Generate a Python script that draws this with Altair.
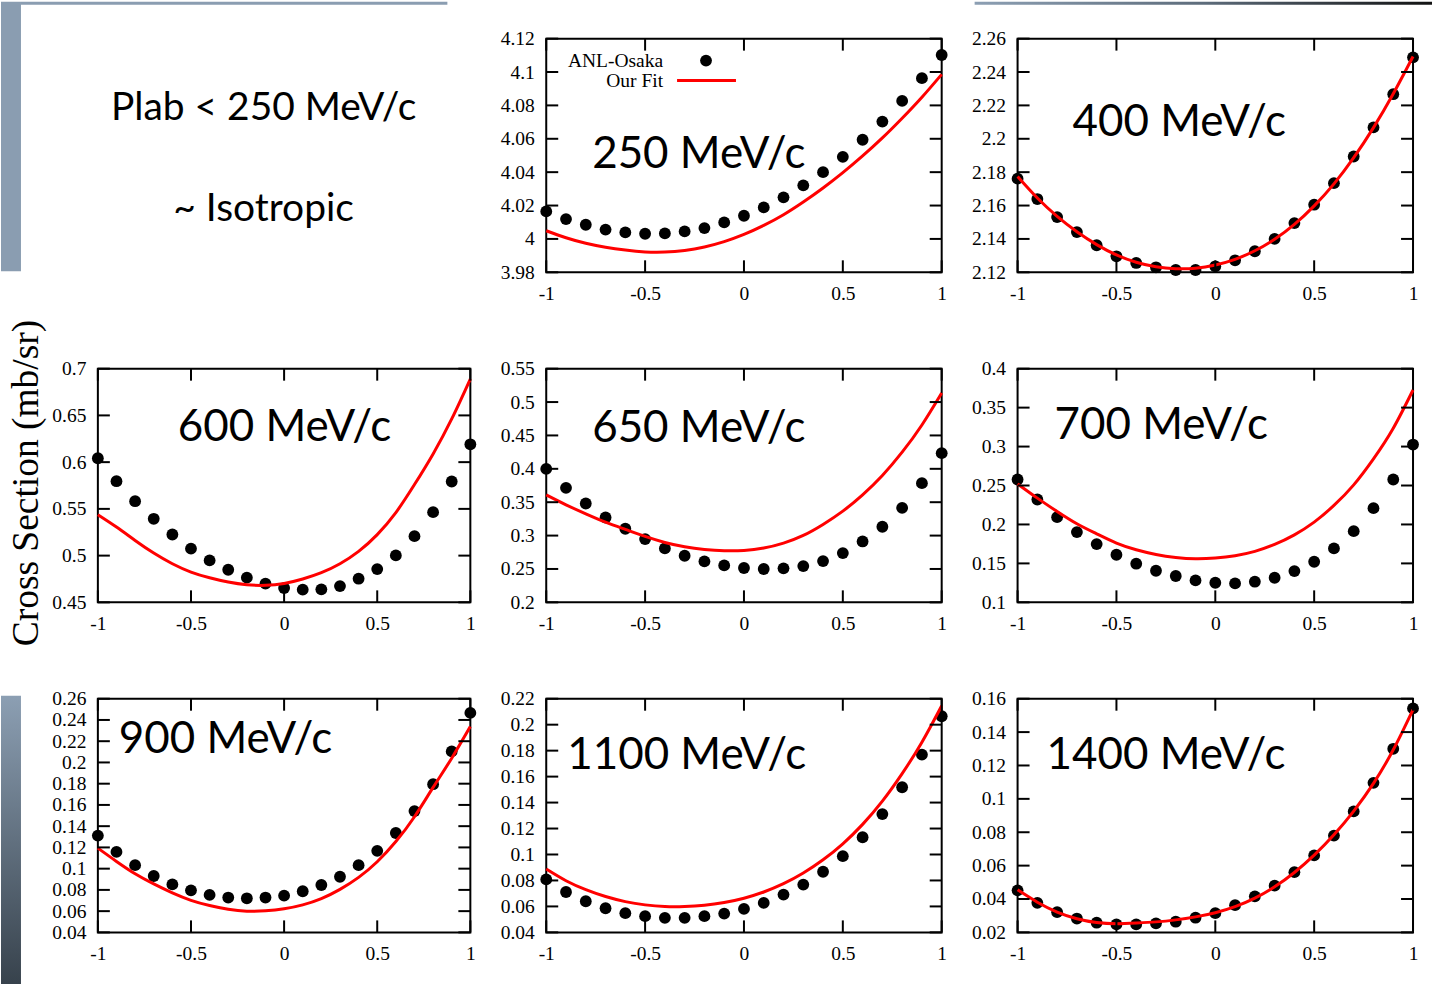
import altair as alt
import pandas as pd

# cos(theta) grid shared by every panel
COS = [-1.0, -0.9, -0.8, -0.7, -0.6, -0.5, -0.4, -0.3, -0.2, -0.1, 0.0,
       0.1, 0.2, 0.3, 0.4, 0.5, 0.6, 0.7, 0.8, 0.9, 1.0]
X_TICKS = [-1, -0.5, 0, 0.5, 1]

# ---- 250 MeV/c ----
anl_250 = [4.0165, 4.0119, 4.0085, 4.0056, 4.0039, 4.0031, 4.0033, 4.0045, 4.0065, 4.0099, 4.0139,
           4.0189, 4.0249, 4.0321, 4.0400, 4.0492, 4.0594, 4.0703, 4.0827, 4.0963, 4.1102]
fit_250 = [4.0049, 4.0007, 3.9974, 3.9950, 3.9933, 3.9922, 3.9921, 3.9931, 3.9952, 3.9984, 4.0027,
           4.0081, 4.0145, 4.0221, 4.0305, 4.0397, 4.0497, 4.0605, 4.0723, 4.0849, 4.0986]
yt_250 = [3.98, 4.0, 4.02, 4.04, 4.06, 4.08, 4.1, 4.12]

# ---- 400 MeV/c ----
anl_400 = [2.1761, 2.1639, 2.1531, 2.1441, 2.1362, 2.1296, 2.1256, 2.1230, 2.1214, 2.1214, 2.1236,
           2.1272, 2.1326, 2.1400, 2.1495, 2.1605, 2.1734, 2.1894, 2.2068, 2.2267, 2.2488]
fit_400 = [2.1774, 2.1645, 2.1535, 2.1443, 2.1366, 2.1304, 2.1260, 2.1233, 2.1222, 2.1225, 2.1244,
           2.1278, 2.1329, 2.1398, 2.1487, 2.1598, 2.1730, 2.1887, 2.2067, 2.2270, 2.2493]
yt_400 = [2.12, 2.14, 2.16, 2.18, 2.2, 2.22, 2.24, 2.26]

# ---- 600 MeV/c ----
anl_600 = [0.6042, 0.5796, 0.5582, 0.5394, 0.5226, 0.5074, 0.4949, 0.4849, 0.4764, 0.4700, 0.4653,
           0.4636, 0.4639, 0.4674, 0.4753, 0.4856, 0.5002, 0.5208, 0.5465, 0.5793, 0.6191]
fit_600 = [0.5437, 0.5305, 0.5162, 0.5027, 0.4913, 0.4824, 0.4763, 0.4717, 0.4688, 0.4682, 0.4702,
           0.4750, 0.4817, 0.4913, 0.5045, 0.5225, 0.5460, 0.5760, 0.6088, 0.6462, 0.6890]
yt_600 = [0.45, 0.5, 0.55, 0.6, 0.65, 0.7]

# ---- 650 MeV/c ----
anl_650 = [0.3999, 0.3715, 0.3481, 0.3271, 0.3102, 0.2947, 0.2808, 0.2698, 0.2613, 0.2553, 0.2514,
           0.2499, 0.2509, 0.2543, 0.2618, 0.2738, 0.2912, 0.3132, 0.3416, 0.3785, 0.4234]
fit_650 = [0.3610, 0.3461, 0.3326, 0.3201, 0.3092, 0.2987, 0.2897, 0.2833, 0.2793, 0.2773, 0.2777,
           0.2813, 0.2887, 0.3002, 0.3167, 0.3366, 0.3610, 0.3900, 0.4249, 0.4657, 0.5136]
yt_650 = [0.2, 0.25, 0.3, 0.35, 0.4, 0.45, 0.5, 0.55]

# ---- 700 MeV/c ----
anl_700 = [0.2577, 0.2320, 0.2094, 0.1902, 0.1748, 0.1611, 0.1496, 0.1406, 0.1338, 0.1282, 0.1252,
           0.1243, 0.1265, 0.1316, 0.1401, 0.1521, 0.1692, 0.1914, 0.2209, 0.2577, 0.3026]
fit_700 = [0.2521, 0.2338, 0.2167, 0.2009, 0.1880, 0.1761, 0.1675, 0.1615, 0.1577, 0.1560, 0.1569,
           0.1598, 0.1654, 0.1744, 0.1867, 0.2030, 0.2244, 0.2508, 0.2842, 0.3235, 0.3726]
yt_700 = [0.1, 0.15, 0.2, 0.25, 0.3, 0.35, 0.4]

# ---- 900 MeV/c ----
anl_900 = [0.1311, 0.1158, 0.1033, 0.0931, 0.0852, 0.0796, 0.0753, 0.0728, 0.0721, 0.0728, 0.0746,
           0.0787, 0.0846, 0.0924, 0.1033, 0.1168, 0.1336, 0.1542, 0.1795, 0.2104, 0.2466]
fit_900 = [0.1193, 0.1068, 0.0952, 0.0856, 0.0772, 0.0702, 0.0653, 0.0618, 0.0600, 0.0603, 0.0622,
           0.0659, 0.0718, 0.0805, 0.0918, 0.1065, 0.1255, 0.1489, 0.1765, 0.2040, 0.2338]
yt_900 = [0.04, 0.06, 0.08, 0.1, 0.12, 0.14, 0.16, 0.18, 0.2, 0.22, 0.24, 0.26]

# ---- 1100 MeV/c ----
anl_1100 = [0.0808, 0.0711, 0.0640, 0.0586, 0.0548, 0.0525, 0.0512, 0.0512, 0.0525, 0.0545, 0.0581,
            0.0627, 0.0691, 0.0768, 0.0867, 0.0987, 0.1133, 0.1311, 0.1518, 0.1769, 0.2065]
fit_1100 = [0.0888, 0.0798, 0.0729, 0.0676, 0.0637, 0.0612, 0.0599, 0.0599, 0.0609, 0.0630, 0.0663,
            0.0711, 0.0775, 0.0857, 0.0959, 0.1082, 0.1232, 0.1411, 0.1623, 0.1865, 0.2146]
yt_1100 = [0.04, 0.06, 0.08, 0.1, 0.12, 0.14, 0.16, 0.18, 0.2, 0.22]

# ---- 1400 MeV/c ----
anl_1400 = [0.0452, 0.0377, 0.0321, 0.0283, 0.0258, 0.0248, 0.0248, 0.0254, 0.0264, 0.0288, 0.0315,
            0.0363, 0.0416, 0.0480, 0.0561, 0.0661, 0.0780, 0.0925, 0.1096, 0.1300, 0.1542]
fit_1400 = [0.0455, 0.0381, 0.0322, 0.0282, 0.0259, 0.0252, 0.0256, 0.0263, 0.0275, 0.0293, 0.0318,
            0.0354, 0.0405, 0.0473, 0.0559, 0.0663, 0.0785, 0.0927, 0.1093, 0.1294, 0.1535]
yt_1400 = [0.02, 0.04, 0.06, 0.08, 0.1, 0.12, 0.14, 0.16]

SERIF = "Liberation Serif"
SANS = "Lato"
RED = "#ff0000"
TICK = 12
H = 234
W_LEFT = 373
W = 396
LABEL_SIZE = 19.5


def one_row(**cols):
    return pd.DataFrame({k: [v] for k, v in cols.items()})


def axis(values, pad):
    return alt.Axis(title=None, values=values, ticks=False, domain=False, grid=False,
                    labelExpr="toString(datum.value)", labelFont=SERIF, labelFontSize=LABEL_SIZE,
                    labelColor="black", labelPadding=pad, labelFlush=False,
                    labelOverlap=False, labelBound=False)


def panel(title, anl, fit, yticks, width, tx, ty, extra=()):
    df = pd.DataFrame({"cos": COS, "anl": anl, "fit": fit})
    xs = alt.Scale(domain=[-1, 1], nice=False, zero=False)
    ys = alt.Scale(domain=[yticks[0], yticks[-1]], nice=False, zero=False)
    xa = axis(X_TICKS, 12)
    ya = axis(yticks, 12)
    X = alt.X("cos:Q", scale=xs, axis=xa)

    dots = alt.Chart(df).mark_circle(size=140, color="black", opacity=1).encode(
        x=X, y=alt.Y("anl:Q", scale=ys, axis=ya))
    curve = alt.Chart(df).mark_line(color=RED, strokeWidth=3, interpolate="natural").encode(
        x=X, y=alt.Y("fit:Q", scale=ys, axis=ya))

    ydf = pd.DataFrame({"v": yticks})
    xdf = pd.DataFrame({"v": X_TICKS})
    Yt = alt.Y("v:Q", scale=ys, axis=ya)
    Xt = alt.X("v:Q", scale=xs, axis=xa)
    tick_l = alt.Chart(ydf).mark_rule(color="black", strokeWidth=2).encode(
        y=Yt, x=alt.value(0), x2=alt.value(TICK))
    tick_r = alt.Chart(ydf).mark_rule(color="black", strokeWidth=2).encode(
        y=Yt, x=alt.value(width - TICK), x2=alt.value(width))
    tick_b = alt.Chart(xdf).mark_rule(color="black", strokeWidth=2).encode(
        x=Xt, y=alt.value(H - TICK), y2=alt.value(H))
    tick_t = alt.Chart(xdf).mark_rule(color="black", strokeWidth=2).encode(
        x=Xt, y=alt.value(0), y2=alt.value(TICK))

    label = alt.Chart(one_row(t=title)).mark_text(
        font=SANS, fontSize=44, align="left", baseline="alphabetic", color="black"
    ).encode(x=alt.value(tx), y=alt.value(ty), text="t:N")

    return alt.layer(dots, curve, tick_l, tick_r, tick_b, tick_t, label, *extra).properties(
        width=width, height=H)


# slide decoration and intro text
slate = "#8a9db1"
intro = alt.layer(
    alt.Chart(one_row(k=1)).mark_rect(color=slate).encode(
        x=alt.value(-97), x2=alt.value(-77), y=alt.value(-37), y2=alt.value(233)),
    alt.Chart(one_row(k=1)).mark_rect(color=slate).encode(
        x=alt.value(-77), x2=alt.value(350), y=alt.value(-37), y2=alt.value(-34)),
    alt.Chart(one_row(t="Plab < 250 MeV/c")).mark_text(
        font=SANS, fontSize=39, align="center", baseline="alphabetic", color="black"
    ).encode(x=alt.value(166), y=alt.value(81), text="t:N"),
    alt.Chart(one_row(t="~ Isotropic")).mark_text(
        font=SANS, fontSize=39, align="center", baseline="alphabetic", color="black"
    ).encode(x=alt.value(166), y=alt.value(183), text="t:N"),
).properties(width=W_LEFT, height=H, view=alt.ViewBackground(stroke="transparent"))

# legend inside the 250 MeV/c frame
legend = [
    alt.Chart(one_row(t="ANL-Osaka")).mark_text(
        font=SERIF, fontSize=LABEL_SIZE, align="right", baseline="alphabetic", color="black"
    ).encode(x=alt.value(117), y=alt.value(28), text="t:N"),
    alt.Chart(one_row(t="Our Fit")).mark_text(
        font=SERIF, fontSize=LABEL_SIZE, align="right", baseline="alphabetic", color="black"
    ).encode(x=alt.value(117), y=alt.value(48), text="t:N"),
    alt.Chart(one_row(k=1)).mark_circle(size=140, color="black", opacity=1).encode(
        x=alt.value(160), y=alt.value(22)),
    alt.Chart(one_row(k=1)).mark_rule(color=RED, strokeWidth=3).encode(
        x=alt.value(131), x2=alt.value(190), y=alt.value(42)),
]

top_bar = alt.Chart(one_row(k=1)).mark_rect(
    color=alt.LinearGradient(gradient="linear", x1=0, x2=1, y1=0, y2=0,
                             stops=[alt.GradientStop(offset=0, color="#8c9fb3"),
                                    alt.GradientStop(offset=0.5, color="#5d6c7b"),
                                    alt.GradientStop(offset=1, color="#121212")])
).encode(x=alt.value(-43), x2=alt.value(415), y=alt.value(-37), y2=alt.value(-34))

side_bar = alt.Chart(one_row(k=1)).mark_rect(
    color=alt.LinearGradient(gradient="linear", x1=0, x2=0, y1=0, y2=1,
                             stops=[alt.GradientStop(offset=0, color="#8c9fb3"),
                                    alt.GradientStop(offset=1, color="#37424c")])
).encode(x=alt.value(-97), x2=alt.value(-77), y=alt.value(-3), y2=alt.value(286))

y_title = alt.Chart(one_row(t="Cross Section (mb/sr)")).mark_text(
    font=SERIF, fontSize=37.5, angle=270, align="center", baseline="alphabetic", color="black"
).encode(x=alt.value(-60), y=alt.value(114.5), text="t:N")

cells = [
    intro,
    panel("250 MeV/c", anl_250, fit_250, yt_250, W, 46, 130, legend),
    panel("400 MeV/c", anl_400, fit_400, yt_400, W, 55, 98, [top_bar]),
    panel("600 MeV/c", anl_600, fit_600, yt_600, W_LEFT, 80, 72.5, [y_title]),
    panel("650 MeV/c", anl_650, fit_650, yt_650, W, 46, 73.5),
    panel("700 MeV/c", anl_700, fit_700, yt_700, W, 37, 70.5),
    panel("900 MeV/c", anl_900, fit_900, yt_900, W_LEFT, 21, 54, [side_bar]),
    panel("1100 MeV/c", anl_1100, fit_1100, yt_1100, W, 21, 70),
    panel("1400 MeV/c", anl_1400, fit_1400, yt_1400, W, 29, 70),
]

chart = alt.concat(
    *cells, columns=3, spacing={"row": 96.5, "column": 76}, bounds="flush", align="each"
).properties(padding=0, background="white").configure_view(stroke="black", strokeWidth=2)

chart.save("out.html", embed_options={"renderer": "svg", "actions": False})
